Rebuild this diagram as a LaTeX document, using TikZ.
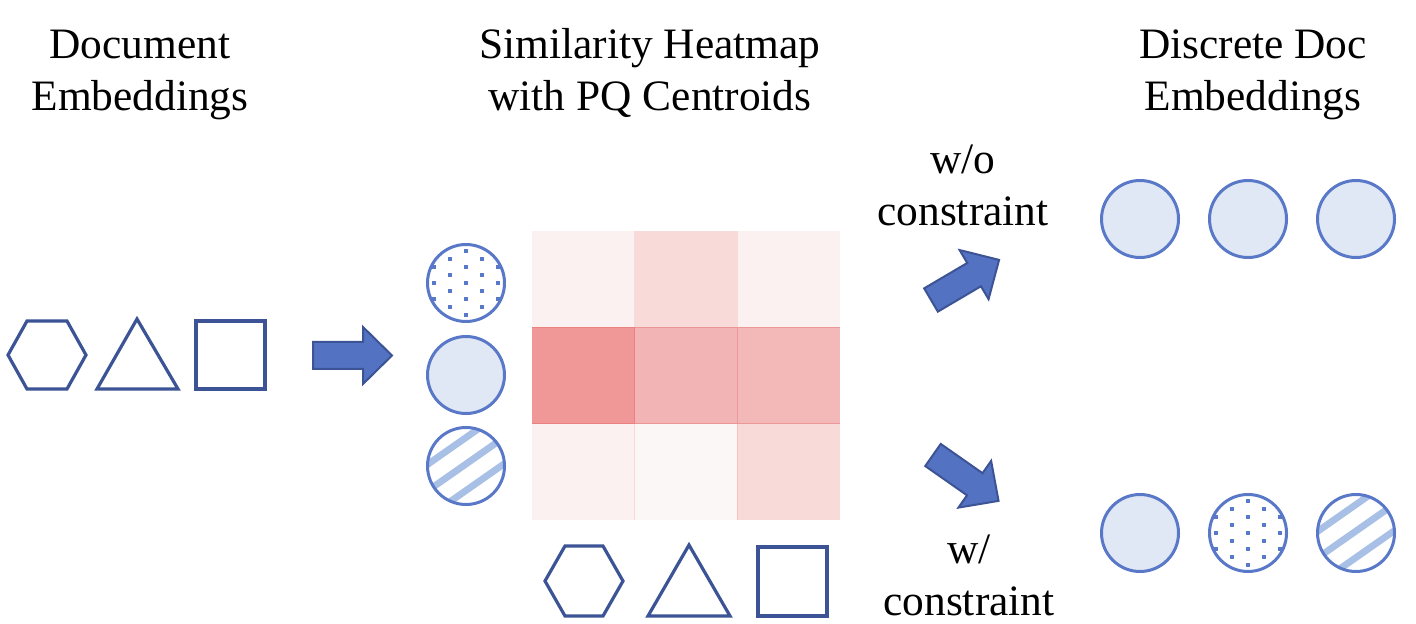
\documentclass[tikz,border=0pt]{standalone}
\usepackage{fontspec}
\setmainfont{Liberation Serif}
\definecolor{shapeblue}{HTML}{3C5495}
\definecolor{arrowfill}{HTML}{5472C2}
\definecolor{cblue}{HTML}{5A78C8}
\definecolor{cfill}{HTML}{E0E8F5}
\definecolor{stripeblue}{HTML}{A8C0E6}
\definecolor{hA}{HTML}{FBF1F0}
\definecolor{hB}{HTML}{F8DAD8}
\definecolor{hC}{HTML}{F09898}
\definecolor{hD}{HTML}{F2B4B4}
\definecolor{hE}{HTML}{F3B8B8}
\definecolor{hF}{HTML}{FCF7F7}
\definecolor{hline}{HTML}{E05050}
\newcommand{\blkarrow}[4]{%
  \begin{scope}[shift={(#1,#2)}, rotate=#3]
    \draw[blockarrow] (0,-13.5) -- (#4-29,-13.5) -- (#4-29,-28.5) -- (#4,0)
      -- (#4-29,28.5) -- (#4-29,13.5) -- (0,13.5) -- cycle;
  \end{scope}}
\newcommand{\dotpat}[2]{%
  \begin{scope}[shift={(#1,#2)}]
    \clip (0,0) circle (38.5);
    \foreach \j in {-5,...,5}{
      \foreach \k in {-2,...,2}{
        \pgfmathsetmacro{\ddx}{32*\k+16*mod(abs(\j),2)}
        \fill[cblue] (\ddx-1.6,8*\j-1.6) rectangle +(3.2,3.2);
      }}
  \end{scope}}
\newcommand{\stripepat}[2]{%
  \begin{scope}[shift={(#1,#2)}]
    \clip (0,0) circle (38.5);
    \foreach \k in {-3,...,3}{
      \draw[stripeblue, line width=3.4pt] (-60,-2+26.5*\k+42) -- (60,-2+26.5*\k-42);
    }
  \end{scope}}
\tikzset{
  outl/.style={draw=shapeblue, line width=1.6pt, line join=miter},
  blockarrow/.style={draw=shapeblue, fill=arrowfill, line width=1pt, line join=miter},
  cnode/.style={circle, draw=cblue, line width=1.5pt, minimum size=38.5pt, inner sep=0pt},
  cplain/.style={cnode, fill=cfill},
  cpat/.style={cnode},
  lbl/.style={font=\fontsize{21.7}{26}\selectfont, inner sep=0pt, anchor=base},
  hsep/.style={draw=hline, draw opacity=0.3, line width=0.5pt}
}
\begin{document}
\begin{tikzpicture}[x=0.5pt, y=-0.5pt]
\useasboundingbox (0,0) rectangle (1416,624);
\fill[white] (0,0) rectangle (1416,624);

% titles
\node[lbl] (t1) at (140,59) {\begin{tabular}[t]{@{}c@{}}Document\\Embeddings\end{tabular}};
\node[lbl] (t2) at (650,59) {\begin{tabular}[t]{@{}c@{}}Similarity Heatmap\\with PQ Centroids\end{tabular}};
\node[lbl] (t3) at (1253,59) {\begin{tabular}[t]{@{}c@{}}Discrete Doc\\Embeddings\end{tabular}};
\node[lbl] (wo) at (963,174) {\begin{tabular}[t]{@{}c@{}}w/o\\constraint\end{tabular}};
\node[lbl] (w) at (969,563) {\begin{tabular}[t]{@{}c@{}}w/\\constraint\end{tabular}};

% document embeddings shapes
\draw[outl] (8,355) -- (27,321) -- (67,321) -- (86,355) -- (67,389) -- (27,389) -- cycle;
\draw[outl] (137,319) -- (178,389) -- (97,389) -- cycle;
\draw[outl] (196,321) rectangle (265,389);

% right arrow
\blkarrow{313}{355.5}{0}{79}

% centroids
\dotpat{466}{283}
\node[cpat] (c1) at (466,283) {};
\node[cplain] (c2) at (466,375) {};
\stripepat{466}{466}
\node[cpat] (c3) at (466,466) {};

% heatmap
\fill[hA] (532,231) rectangle (634.7,327.3);
\fill[hB] (634.7,231) rectangle (737.3,327.3);
\fill[hA] (737.3,231) rectangle (840,327.3);
\fill[hC] (532,327.3) rectangle (634.7,423.7);
\fill[hD] (634.7,327.3) rectangle (737.3,423.7);
\fill[hE] (737.3,327.3) rectangle (840,423.7);
\fill[hA] (532,423.7) rectangle (634.7,520);
\fill[hF] (634.7,423.7) rectangle (737.3,520);
\fill[hB] (737.3,423.7) rectangle (840,520);
\draw[hsep, draw opacity=0.15] (634.7,231) -- (634.7,327.3) (737.3,231) -- (737.3,327.3)
  (634.7,423.7) -- (634.7,520) (737.3,423.7) -- (737.3,520);
\draw[hsep] (634.7,327.3) -- (634.7,423.7) (737.3,327.3) -- (737.3,423.7)
  (532,327.3) -- (840,327.3) (532,423.7) -- (840,423.7);

% bottom shapes
\draw[outl] (545,581) -- (565,546) -- (603,546) -- (623,581) -- (603,616) -- (565,616) -- cycle;
\draw[outl] (689,545) -- (730,616) -- (648,616) -- cycle;
\draw[outl] (758,547) rectangle (827,616);

% diagonal arrows
\blkarrow{931}{300}{30.5}{79}
\blkarrow{933}{455}{-35}{80}

% discrete embeddings
\node[cplain] (d1) at (1140,219) {};
\node[cplain] (d2) at (1248,219) {};
\node[cplain] (d3) at (1356,219) {};
\node[cplain] (e1) at (1140,533) {};
\dotpat{1248}{533}
\node[cpat] (e2) at (1248,533) {};
\stripepat{1356}{533}
\node[cpat] (e3) at (1356,533) {};
\end{tikzpicture}
\end{document}
